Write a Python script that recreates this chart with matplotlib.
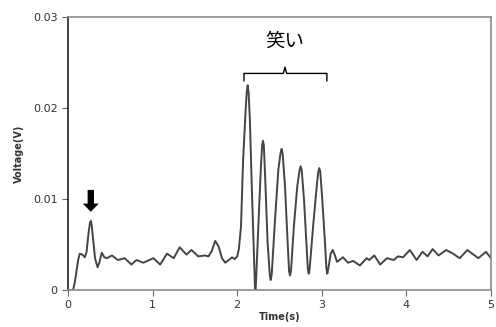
import matplotlib
matplotlib.use("Agg")
import matplotlib.pyplot as plt
from matplotlib.patches import FancyArrow

plt.rcParams['font.family'] = ['DejaVu Sans', 'Noto Sans CJK JP']

# Time (s) and voltage (V)
time_s = [0.00, 0.06, 0.08, 0.10, 0.12, 0.14, 0.17, 0.20, 0.22, 0.24, 0.26, 0.27, 0.28,
          0.295, 0.32, 0.35, 0.37, 0.40, 0.43, 0.46, 0.52,
          0.59, 0.67, 0.75, 0.81, 0.89, 1.01, 1.09, 1.17, 1.25, 1.32, 1.40, 1.46,
          1.54, 1.62, 1.66, 1.70, 1.74, 1.78, 1.82, 1.86, 1.94, 1.97, 2.00, 2.02,
          2.045, 2.07, 2.10, 2.113, 2.124, 2.135,
          2.15, 2.175, 2.20, 2.208, 2.215, 2.222, 2.25, 2.28, 2.295, 2.305, 2.315,
          2.33, 2.36, 2.385, 2.396, 2.408, 2.447,
          2.486, 2.513, 2.525, 2.537, 2.565, 2.597, 2.613, 2.624, 2.636, 2.67, 2.71,
          2.738, 2.75, 2.762, 2.79, 2.82, 2.835, 2.845, 2.856,
          2.90, 2.94, 2.958, 2.97, 2.982, 3.006, 3.04, 3.055, 3.065, 3.076, 3.105,
          3.13, 3.155, 3.18, 3.25, 3.31, 3.37, 3.45,
          3.53, 3.56, 3.62, 3.69, 3.77, 3.85, 3.90, 3.96, 4.04, 4.12, 4.19, 4.25,
          4.31, 4.38, 4.47, 4.55, 4.63, 4.72, 4.85, 4.94, 5.00]
voltage_v = [0.0000, 0.0000, 0.0008, 0.0020, 0.0033, 0.0040, 0.0039, 0.0036, 0.0042,
             0.0060, 0.0074, 0.0076, 0.0072, 0.0058, 0.0035, 0.0025, 0.0030,
             0.0041, 0.0036, 0.0035, 0.0038, 0.0033, 0.0035, 0.0028, 0.0033, 0.0030,
             0.0035, 0.0028, 0.0040, 0.0035, 0.0047, 0.0039, 0.0044, 0.0037, 0.0038,
             0.0037, 0.0043, 0.0054, 0.0048, 0.0035, 0.0030, 0.0036, 0.0034, 0.0037,
             0.0045, 0.0070, 0.0143, 0.0198, 0.0218, 0.0225, 0.0217,
             0.0187, 0.0106, 0.0033, 0.0008, 0.0000, 0.0008, 0.0070, 0.0135, 0.0159,
             0.0164, 0.0159, 0.0125, 0.0051, 0.0017, 0.0011, 0.0017, 0.0077,
             0.0132, 0.0151, 0.0155, 0.0150, 0.0114, 0.0051, 0.0021, 0.0016, 0.0021,
             0.0070, 0.0114, 0.0132, 0.0136, 0.0132, 0.0099, 0.0048, 0.0023, 0.0018,
             0.0023, 0.0073, 0.0114, 0.0130, 0.0134, 0.0130, 0.0099, 0.0048, 0.0023,
             0.0018, 0.0023, 0.0040, 0.0044, 0.0038, 0.0031, 0.0036, 0.0030, 0.0032,
             0.0027, 0.0035, 0.0033, 0.0038, 0.0028, 0.0035, 0.0033, 0.0037, 0.0036,
             0.0044, 0.0033, 0.0042, 0.0037, 0.0045, 0.0038, 0.0044, 0.0040, 0.0035,
             0.0044, 0.0035, 0.0042, 0.0035]

x_ticks = [0, 1, 2, 3, 4, 5]
y_ticks = [0, 0.01, 0.02, 0.03]
y_tick_labels = ["0", "0.01", "0.02", "0.03"]
x_label = "Time(s)"
y_label = "Voltage(V)"
laugh_label = "笑い"

fig = plt.figure(figsize=(4.96, 3.27), dpi=100)
ax = fig.add_axes([0.137, 0.113, 0.853, 0.835])

ax.plot(time_s, voltage_v, color="#454545", lw=1.4, solid_joinstyle="round",
        antialiased=True)

ax.set_xlim(0, 5)
ax.set_ylim(0, 0.03)
ax.set_xticks(x_ticks)
ax.set_xticklabels([str(t) for t in x_ticks])
ax.set_yticks(y_ticks)
ax.set_yticklabels(y_tick_labels)
ax.tick_params(axis="both", labelsize=8, colors="#666666", length=4, width=0.8,
               direction="out", labelcolor="#333333")

for side in ["top", "right", "bottom"]:
    ax.spines[side].set_color("#8a8a8a")
    ax.spines[side].set_linewidth(1.2)
ax.spines["left"].set_color("#222222")
ax.spines["left"].set_linewidth(1.2)

ax.set_xlabel(x_label, fontsize=7, fontweight="bold", color="#333333", labelpad=1)
ax.set_ylabel(y_label, fontsize=7, fontweight="bold", color="#333333", labelpad=6)

# Arrow pointing at the first small peak
ax.add_patch(FancyArrow(0.27, 0.0110, 0, -0.0024, width=0.075, head_width=0.19,
                        head_length=0.0009, length_includes_head=True,
                        color="black", lw=0))

# Bracket over the laughing section
bx0, bx1, bxc = 2.08, 3.06, 2.565
by, by_end, by_top = 0.0238, 0.0230, 0.0245
ax.plot([bx0, bx0, bxc - 0.02, bxc, bxc + 0.02, bx1, bx1],
        [by_end, by, by, by_top, by, by, by_end], color="black", lw=1.0,
        solid_joinstyle="round")
ax.text(bxc, 0.0262, laugh_label, ha="center", va="bottom", fontsize=14,
        family=["Noto Sans CJK JP", "DejaVu Sans"], color="black")

fig.savefig("out.png", dpi=100)
